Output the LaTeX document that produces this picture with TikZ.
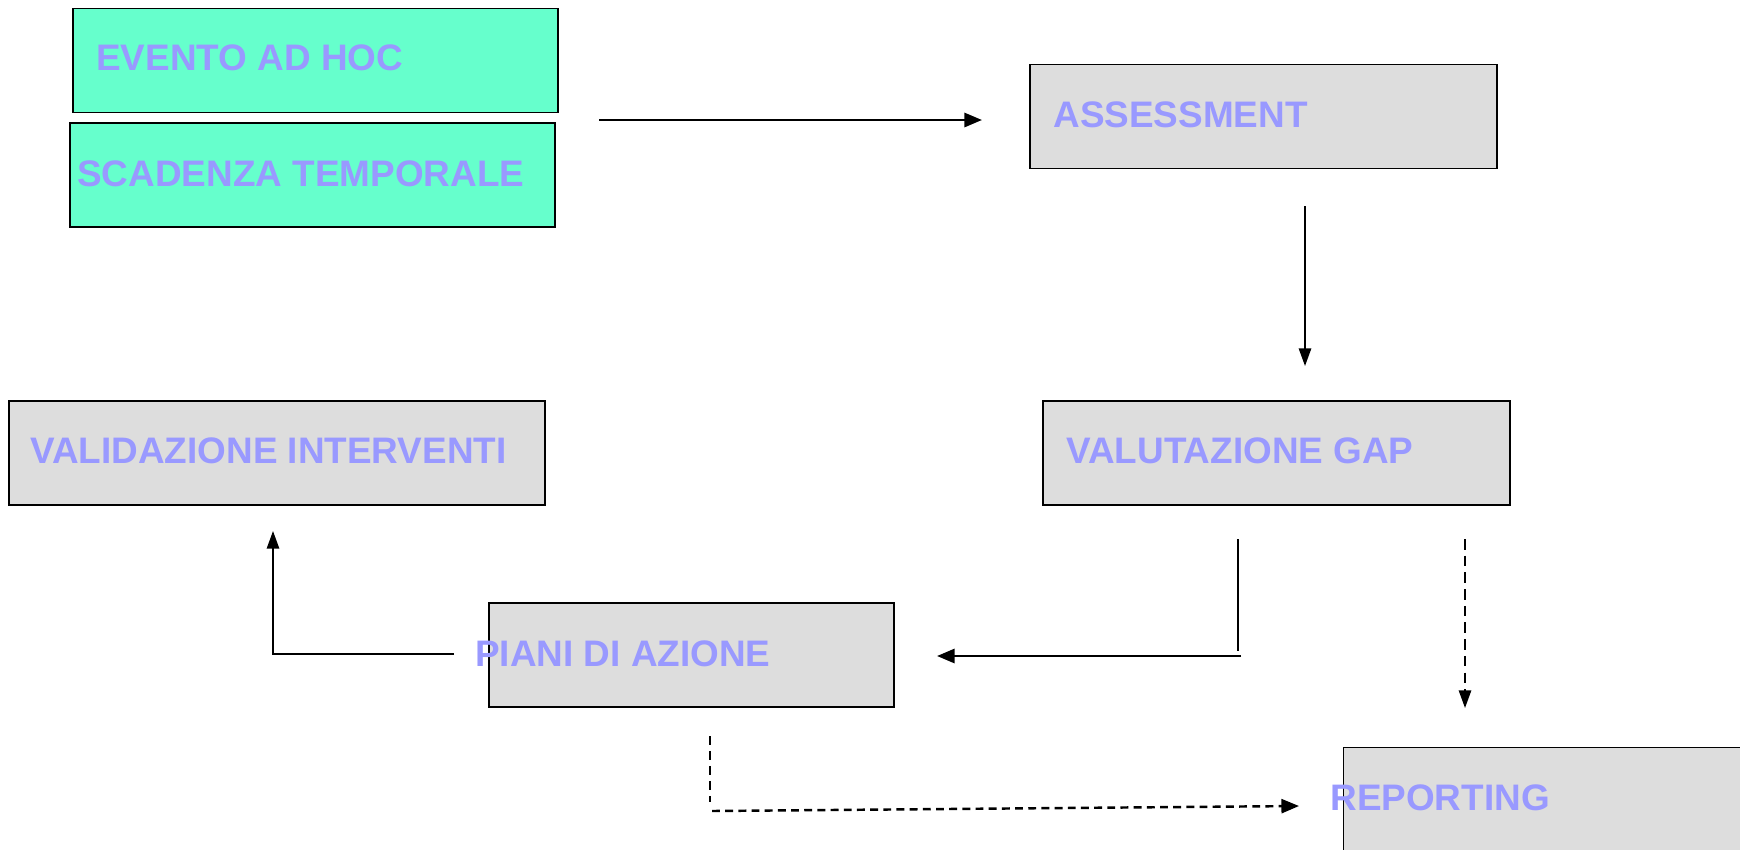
\documentclass[tikz,border=0pt]{standalone}
\usepackage{fontspec}
\setmainfont{Liberation Sans}
\usetikzlibrary{arrows.meta}
\definecolor{lav}{HTML}{9999FF}
\definecolor{verde}{HTML}{66FFCC}
\definecolor{grigio}{HTML}{DDDDDD}
\tikzset{
	box/.style={draw=black, line width=0.8pt, inner sep=0pt, minimum height=2.08cm},
	lbl/.style={anchor=base west, inner sep=0pt, text=lav, font=\bfseries\fontsize{21}{25}\selectfont},
	freccia/.style={line width=1.5pt, -{Triangle[length=10pt,width=8pt]}},
	tratto/.style={line width=1.4pt, dash pattern=on 4.5pt off 3pt, -{Triangle[length=10pt,width=8pt]}}
}
\begin{document}
\begin{tikzpicture}[x=0.02cm, y=-0.02cm]
	\useasboundingbox (0,0) rectangle (1740,849);
	\clip (0,0) rectangle (1740,849);
	
	\node (evento) [box, fill=verde, minimum width=9.7cm] at (315.5,60.5) {};
	\node (scadenza) [box, fill=verde, minimum width=9.7cm] at (312.5,175) {};
	\node (assess) [box, fill=grigio, minimum width=9.34cm] at (1263.5,116.5) {};
	\node (gap) [box, fill=grigio, minimum width=9.34cm] at (1276.5,453) {};
	\node (valid) [box, fill=grigio, minimum width=10.72cm] at (277,453) {};
	\node (piani) [box, fill=grigio, minimum width=8.1cm] at (691.5,655) {};
	\node (report) [box, fill=grigio, minimum width=9.34cm, anchor=north west] at (1343,747) {};
	
	\node (evento-t) [lbl] at (96,70) {EVENTO AD HOC};
	\node (scadenza-t) [lbl] at (77,186) {SCADENZA TEMPORALE};
	\node (assess-t) [lbl] at (1053,127) {ASSESSMENT};
	\node (gap-t) [lbl] at (1066,463) {VALUTAZIONE GAP};
	\node (valid-t) [lbl] at (30,463) {VALIDAZIONE INTERVENTI};
	\node (piani-t) [lbl] at (475,666) {PIANI DI AZIONE};
	\node (report-t) [lbl] at (1330,810) {REPORTING};
	
	% punti liberi dei connettori
	\coordinate (a1) at (599,120);
	\coordinate (a2) at (982,120);
	\coordinate (b1) at (1305,206);
	\coordinate (b2) at (1305,366);
	\coordinate (c1) at (1238,539);
	\coordinate (c2) at (1238,651);
	\coordinate (c3) at (1241,656);
	\coordinate (c4) at (937,656);
	\coordinate (d1) at (1465,539);
	\coordinate (d2) at (1465,708);
	\coordinate (e1) at (454,654);
	\coordinate (e2) at (273,654);
	\coordinate (e3) at (273,531);
	\coordinate (f1) at (710,736);
	\coordinate (f2) at (710,802);
	\coordinate (f3) at (712,811);
	\coordinate (f4) at (1299,806);
	
	\draw[freccia] (a1) -- (a2);
	\draw[line width=1pt, -{Triangle[length=10pt,width=7pt]}] (b1) -- (b2);
	\draw[line width=0.8pt] (c1) -- (c2);
	\draw[freccia] (c3) -- (c4);
	\draw[line width=1pt, dash pattern=on 6pt off 3.5pt, -{Triangle[length=10pt,width=7pt]}] (d1) -- (d2);
	\draw[line width=1pt, -{Triangle[length=10pt,width=7pt]}] (e1) -- (e2) -- (e3);
	\draw[line width=0.8pt, dash pattern=on 5pt off 3.5pt] (f1) -- (f2);
	\draw[tratto] (f3) -- (f4);
\end{tikzpicture}
\end{document}
